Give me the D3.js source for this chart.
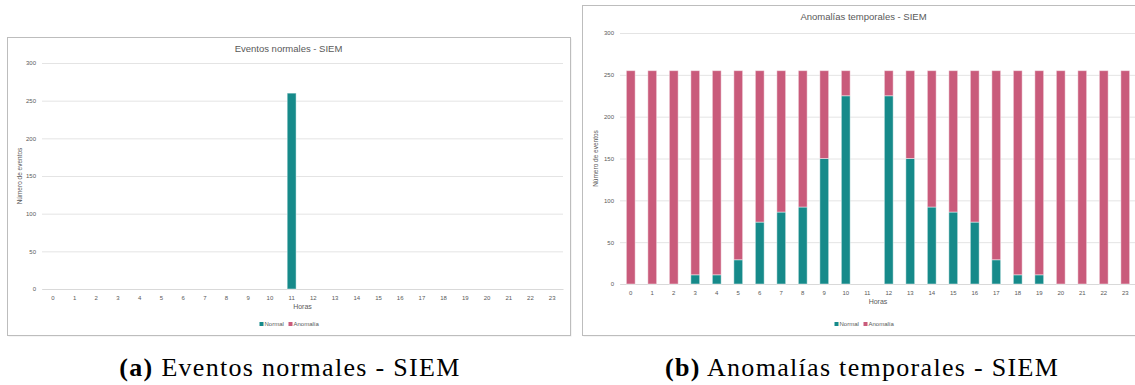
<!DOCTYPE html>
<meta charset="utf-8">
<style>
body { margin: 0; background: #fff; }
text { font-family: "Liberation Sans", Arial, sans-serif; fill: #595959; }
.caption { font-family: "Liberation Serif", "DejaVu Serif", serif; fill: #000; letter-spacing: 1.3px; }
</style>
<svg width="1135" height="385"></svg>
<script src="https://cdn.jsdelivr.net/npm/d3@7/dist/d3.min.js"></script>
<script>
// hours on the x axis
var horas = ["0","1","2","3","4","5","6","7","8","9","10","11","12","13","14","15","16","17","18","19","20","21","22","23"];
var yTicks = [0, 50, 100, 150, 200, 250, 300];

// (a) eventos normales
var normalA   = [0,0,0,0,0,0,0,0,0,0,0,260,0,0,0,0,0,0,0,0,0,0,0,0];
var anomaliaA = [0,0,0,0,0,0,0,0,0,0,0,0,0,0,0,0,0,0,0,0,0,0,0,0];

// (b) anomalias temporales
var normalB   = [0,0,0,11,11,29,74,86,92,150,225,0,225,150,92,86,74,29,11,11,0,0,0,0];
var anomaliaB = [255,255,255,244,244,226,181,169,163,105,30,0,30,105,163,169,181,226,244,244,255,255,255,255];

var seriesNames = ["Normal", "Anomalía"];
var colors = ["#168a8a", "#c95b7b"];

var svg = d3.select("svg");

function panel(opt) {
  var g = svg.append("g");

  // chart frame with the small shadow excel puts on it
  g.append("rect")
      .attr("x", opt.x0 + 1.5).attr("y", opt.y0 + 1.5)
      .attr("width", opt.w).attr("height", opt.h)
      .attr("fill", "#ececec");
  g.append("rect")
      .attr("x", opt.x0 + 0.5).attr("y", opt.y0 + 0.5)
      .attr("width", opt.w).attr("height", opt.h)
      .attr("fill", "#fff").attr("stroke", "#bdbdbd");

  var x = d3.scaleBand().domain(horas).range([opt.left, opt.right]).paddingInner(0.59).paddingOuter(0.295);
  var y = d3.scaleLinear().domain([0, 300]).range([opt.bottom, opt.top]);

  var yAxis = g.append("g")
      .attr("transform", "translate(" + opt.left + ",0)")
      .call(d3.axisLeft(y).tickValues(yTicks).tickSize(-(opt.right - opt.left)).tickPadding(6));
  yAxis.select(".domain").remove();
  yAxis.selectAll(".tick line").attr("stroke", "#e4e4e4");
  yAxis.selectAll(".tick text").style("font-size", "6px").attr("fill", "#595959");

  var xAxis = g.append("g")
      .attr("transform", "translate(0," + opt.bottom + ")")
      .call(d3.axisBottom(x).tickSize(0).tickPadding(7));
  xAxis.select(".domain").attr("stroke", "#d9d9d9");
  xAxis.selectAll(".tick text").style("font-size", "6px").attr("fill", "#595959");

  var rows = horas.map(function(h, i) { return { hora: h, Normal: opt.normal[i], "Anomalía": opt.anomalia[i] }; });
  var stack = d3.stack().keys(seriesNames)(rows);

  g.selectAll(".serie")
    .data(stack)
    .enter().append("g")
      .attr("fill", function(d, i) { return colors[i]; })
    .selectAll("rect")
    .data(function(d) { return d; })
    .enter().filter(function(d) { return d[1] - d[0] > 0; }).append("rect")
      .attr("x", function(d) { return x(d.data.hora); })
      .attr("y", function(d) { return y(d[1]); })
      .attr("width", x.bandwidth())
      .attr("height", function(d) { return y(d[0]) - y(d[1]); })
      .attr("stroke", "rgba(255,255,255,0.45)")
      .attr("stroke-width", 1);

  var cx = opt.x0 + opt.w / 2;
  g.append("text")
      .attr("x", cx).attr("y", opt.y0 + 15)
      .attr("text-anchor", "middle")
      .style("font-size", "9.5px")
      .text(opt.title);

  g.append("text")
      .attr("transform", "translate(" + opt.ytitleX + "," + ((opt.top + opt.bottom) / 2) + ") rotate(-90)")
      .attr("text-anchor", "middle")
      .style("font-size", "6.5px")
      .text("Número de eventos");

  g.append("text")
      .attr("x", (opt.left + opt.right) / 2).attr("y", opt.bottom + 20)
      .attr("text-anchor", "middle")
      .style("font-size", "7px")
      .text("Horas");

  // legend
  var lg = g.append("g").attr("transform", "translate(" + (cx - 29) + "," + (opt.y0 + opt.h - 9) + ")");
  var item = lg.selectAll("g").data(seriesNames).enter().append("g")
      .attr("transform", function(d, i) { return "translate(" + (i * 29) + ",0)"; });
  item.append("rect").attr("x", 0).attr("y", -4).attr("width", 4).attr("height", 4)
      .attr("fill", function(d, i) { return colors[i]; });
  item.append("text").attr("x", 5).attr("y", 0).style("font-size", "6px").text(function(d) { return d; });
}

panel({ x0: 7, y0: 37, w: 563, h: 298, left: 42, right: 563, top: 63, bottom: 289, ytitleX: 22,
        title: "Eventos normales - SIEM", normal: normalA, anomalia: anomaliaA });
panel({ x0: 582, y0: 5, w: 563, h: 330, left: 620, right: 1136, top: 33, bottom: 284, ytitleX: 598,
        title: "Anomalías temporales - SIEM", normal: normalB, anomalia: anomaliaB });

// subfigure captions
var caps = [
  { x: 290, lbl: "(a)", txt: " Eventos normales - SIEM" },
  { x: 862, lbl: "(b)", txt: " Anomalías temporales - SIEM" }
];
caps.forEach(function(c) {
  var t = svg.append("text").attr("class", "caption")
      .attr("x", c.x).attr("y", 376)
      .attr("text-anchor", "middle")
      .style("font-size", "26px");
  t.append("tspan").attr("font-weight", "bold").text(c.lbl);
  t.append("tspan").text(c.txt);
});
</script>
